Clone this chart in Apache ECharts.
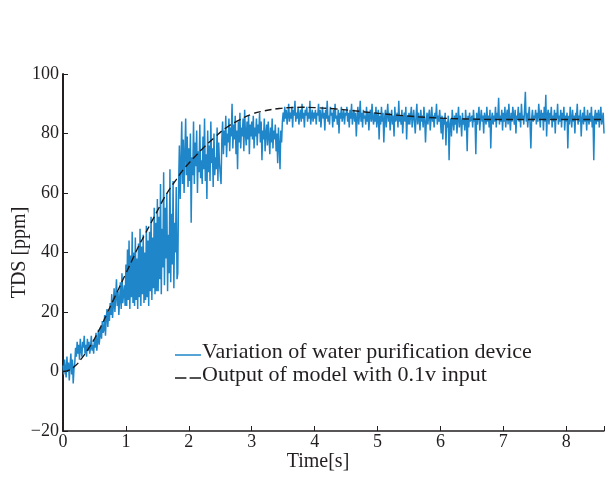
<!DOCTYPE html>
<html>
<head>
<meta charset="utf-8">
<script src="https://cdn.jsdelivr.net/npm/echarts@6/dist/echarts.min.js"></script>
<style>
  html, body { margin: 0; padding: 0; background: #fff; }
  #chart { width: 605px; height: 477px; }
</style>
</head>
<body>
<div id="chart"></div>
<script>
const sampleStep = 0.0125
const measuredValues = [
  2, -1, 4, 1, -2, 5, 0, 3, -3, 2, 6, -1, 4, -4, 1, 3, 8, 5, 10, 6, 9, 4, 11, 7, 5, 10, 8, 12, 6, 9, 5, 11, 7, 10, 6, 8, 12, 7, 9, 6,
  11, 8, 13, 7, 10, 14, 9, 12, 15, 11, 17, 13, 14, 19, 12, 18, 21, 15, 20, 17, 23, 19, 26, 18, 22, 28, 20, 25, 31, 22, 27, 19, 24, 30, 21, 33, 23, 26, 29, 22,
  36, 22, 41, 24, 44, 21, 39, 25, 47, 23, 40, 22, 45, 24, 38, 21, 43, 25, 48, 22, 42, 26, 46, 23, 40, 24, 49, 25, 44, 22, 47, 27, 52, 24, 45, 28, 55, 26, 50, 27,
  58, 27, 52, 31, 63, 26, 48, 35, 67, 29, 55, 38, 60, 27, 46, 33, 68, 30, 53, 36, 64, 28, 50, 40, 62, 31, 33, 62, 76, 58, 70, 84, 63, 78, 60, 73, 85, 66, 79, 62,
  75, 64, 80, 50, 72, 66, 84, 63, 77, 69, 81, 60, 74, 67, 83, 65, 71, 63, 79, 68, 85, 64, 73, 58, 81, 67, 76, 64, 84, 70, 75, 62, 80, 66, 72, 68, 82, 64, 77, 70,
  70, 63, 78, 84, 73, 81, 76, 86, 72, 80, 77, 85, 74, 82, 79, 90, 75, 83, 78, 86, 73, 81, 68, 84, 77, 87, 75, 82, 79, 85, 74, 88, 80, 76, 84, 78, 86, 73, 83, 79,
  84, 78, 86, 75, 82, 79, 85, 76, 83, 80, 87, 77, 84, 71, 81, 78, 85, 74, 80, 83, 76, 84, 79, 73, 82, 77, 85, 75, 81, 78, 83, 74, 80, 70, 82, 76, 68, 81, 77, 84,
  87, 84, 89, 85, 88, 83, 86, 90, 84, 87, 85, 89, 82, 88, 86, 91, 84, 87, 85, 89, 83, 86, 88, 84, 90, 85, 87, 82, 88, 86, 89, 84, 87, 85, 91, 83, 86, 88, 84, 87,
  85, 88, 83, 87, 86, 90, 84, 88, 82, 86, 89, 85, 87, 81, 88, 85, 91, 84, 86, 83, 89, 86, 87, 82, 88, 84, 90, 85, 86, 83, 88, 80, 87, 85, 89, 84, 86, 88, 83, 87,
  86, 89, 84, 87, 82, 88, 85, 90, 83, 86, 88, 84, 87, 79, 85, 89, 83, 86, 91, 84, 87, 82, 88, 85, 86, 83, 89, 84, 87, 81, 86, 88, 84, 90, 85, 83, 87, 84, 89, 82,
  85, 88, 78, 86, 83, 89, 84, 87, 77, 85, 88, 82, 86, 90, 84, 87, 81, 85, 88, 83, 86, 79, 89, 84, 85, 87, 82, 91, 84, 86, 83, 88, 80, 85, 87, 84, 89, 78, 86, 83,
  87, 83, 86, 89, 82, 85, 88, 84, 80, 86, 90, 83, 87, 85, 81, 88, 84, 86, 82, 89, 85, 77, 84, 87, 83, 86, 88, 81, 85, 89, 84, 86, 82, 87, 85, 90, 83, 86, 84, 88,
  84, 80, 86, 78, 85, 83, 87, 76, 84, 82, 86, 71, 83, 85, 79, 88, 84, 81, 86, 83, 87, 80, 85, 89, 82, 86, 84, 79, 87, 83, 85, 81, 88, 84, 74, 86, 82, 87, 84, 85,
  86, 82, 88, 84, 85, 73, 87, 83, 86, 89, 81, 85, 88, 84, 86, 80, 87, 85, 83, 89, 84, 86, 82, 88, 75, 85, 87, 83, 86, 84, 89, 82, 87, 85, 92, 83, 86, 84, 88, 81,
  87, 84, 89, 82, 86, 88, 83, 90, 85, 81, 87, 84, 89, 86, 83, 88, 80, 86, 85, 89, 84, 87, 82, 90, 85, 86, 83, 88, 94, 84, 87, 82, 86, 89, 83, 75, 85, 88, 84, 86,
  85, 88, 83, 87, 84, 90, 86, 82, 88, 85, 87, 81, 89, 84, 93, 79, 86, 88, 83, 87, 85, 89, 82, 86, 84, 88, 80, 87, 85, 90, 83, 86, 84, 88, 82, 87, 85, 89, 81, 86,
  84, 87, 75, 86, 83, 89, 85, 82, 88, 84, 86, 80, 87, 85, 90, 83, 86, 84, 88, 79, 85, 87, 83, 89, 84, 86, 81, 88, 85, 83, 87, 84, 89, 82, 86, 71, 85, 88, 83, 87,
  84, 88, 82, 86, 89, 83, 85, 87, 80
]

// Model output (dashed curve)
const modelTime = [0, 0.1, 0.2, 0.3, 0.4, 0.5, 0.6, 0.7, 0.8, 0.9, 1.0, 1.1, 1.2, 1.3, 1.4, 1.5, 1.6, 1.7, 1.8, 1.9, 2.0,
  2.2, 2.4, 2.6, 2.8, 3.0, 3.2, 3.4, 3.6, 3.8, 4.0, 4.3, 4.6, 5.0, 5.4, 5.8, 6.2, 6.6, 7.0, 7.5, 8.0, 8.6]
const modelValues = [0, 0.5, 2, 4.5, 7.5, 11, 15, 19.5, 24, 28.5, 33, 37.5, 42, 46, 50, 54, 58, 61.5, 64.5, 67.5, 70,
  74.5, 78.5, 82, 84.5, 86.5, 87.6, 88.3, 88.7, 88.8, 88.7, 88.3, 87.7, 86.8, 86, 85.4, 85, 84.8, 84.7, 84.7, 84.7, 84.7]

const seriesNames = ['Variation of water purification device', 'Output of model with 0.1v input']

const measuredData = measuredValues.map((v, i) => [i * sampleStep, v])
const modelData = modelTime.map((t, i) => [t, modelValues[i]])

const textColor = '#231f20'
const blue = '#1f86c9'
const fontFamily = '"Liberation Serif", "Times New Roman", serif'

// legend glyphs: a line sitting a little low in a 26x10.6 box (tiny dots at the corners keep the box)
const solidIcon = 'path://M0,0h0.2v0.2h-0.2z M0,7.5h26v1.6h-26z M25.8,10.4h0.2v0.2h-0.2z'
const dashedIcon = 'path://M0,0h0.2v0.2h-0.2z M0,7.5h11.4v1.6h-11.4z M14.6,7.5h11.4v1.6h-11.4z M25.8,10.4h0.2v0.2h-0.2z'

const chart = echarts.init(document.getElementById('chart'))
chart.setOption({
  animation: false,
  textStyle: { fontFamily: fontFamily, color: textColor },
  grid: { left: 63, right: 1, top: 74, bottom: 46, outerBoundsMode: 'none' },
  legend: {
    orient: 'vertical',
    left: 170,
    top: 336,
    itemWidth: 26,
    itemHeight: 10.6,
    itemGap: 1,
    symbolKeepAspect: false,
    textStyle: { fontFamily: fontFamily, fontSize: 22, color: textColor, padding: [0, 0, 0, -4] },
    data: [
      { name: seriesNames[0], icon: solidIcon, itemStyle: { color: blue } },
      { name: seriesNames[1], icon: dashedIcon, itemStyle: { color: '#1a1a1a' } }
    ]
  },
  xAxis: {
    type: 'value',
    min: 0,
    max: 8.6,
    interval: 1,
    name: 'Time[s]',
    nameLocation: 'middle',
    nameGap: 21,
    nameMoveOverlap: false,
    nameTextStyle: { fontFamily: fontFamily, fontSize: 20, color: textColor, padding: [0, 31, 0, 0] },
    axisLine: { onZero: false, lineStyle: { color: textColor, width: 1.5 } },
    axisTick: { inside: true, length: 5, lineStyle: { color: textColor } },
    axisLabel: {
      margin: 2,
      fontSize: 18,
      color: textColor,
      fontFamily: fontFamily,
      formatter: v => (Number.isInteger(v) ? String(v) : '')
    },
    splitLine: { show: false }
  },
  yAxis: {
    type: 'value',
    min: -20,
    max: 100,
    interval: 20,
    name: 'TDS [ppm]',
    nameLocation: 'middle',
    nameGap: 33,
    nameMoveOverlap: false,
    nameTextStyle: { fontFamily: fontFamily, fontSize: 20, color: textColor },
    axisLine: { onZero: false, lineStyle: { color: textColor, width: 2 } },
    axisTick: { inside: true, length: 5, lineStyle: { color: textColor } },
    axisLabel: {
      margin: 4,
      fontSize: 18,
      color: textColor,
      fontFamily: fontFamily,
      formatter: v => (v < 0 ? '\u2212' + Math.abs(v) : String(v))
    },
    splitLine: { show: false }
  },
  series: [
    {
      name: seriesNames[0],
      type: 'line',
      data: measuredData,
      symbol: 'none',
      lineStyle: { color: blue, width: 1.5 },
      itemStyle: { color: blue },
      z: 2
    },
    {
      name: seriesNames[1],
      type: 'line',
      data: modelData,
      symbol: 'none',
      smooth: true,
      lineStyle: { color: '#1a1a1a', width: 1.4, type: [7, 4] },
      itemStyle: { color: '#1a1a1a' },
      z: 3
    }
  ]
})
</script>
</body>
</html>
